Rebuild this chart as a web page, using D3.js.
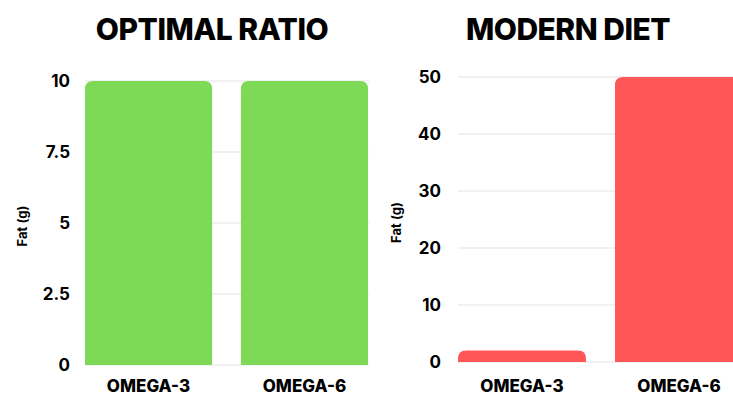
<!DOCTYPE html>
<html>
<head>
<meta charset="utf-8">
<script src="https://cdn.jsdelivr.net/npm/d3@7"></script>
<style>
  html, body { margin: 0; padding: 0; background: #fff; }
  svg { display: block; }
  text { font-family: Inter, "Noto Sans", sans-serif; fill: #000; }
</style>
</head>
<body>
<svg id="chart" width="733" height="396"></svg>
<script>
// Fat content per category for each panel
const categories = ["OMEGA-3", "OMEGA-6"];
const optimalValues = [10, 10];
const modernValues = [2, 50];
const optimalTicks = [0, 2.5, 5, 7.5, 10];
const modernTicks = [0, 10, 20, 30, 40, 50];
const panelTitles = ["OPTIMAL RATIO", "MODERN DIET"];
const yAxisTitle = "Fat (g)";

const svg = d3.select("#chart");

// Path for a bar with rounded top corners only
function topRoundedBar(x, y, w, h, r) {
  r = Math.min(r, h, w / 2);
  return `M${x},${y + h}V${y + r}Q${x},${y} ${x + r},${y}H${x + w - r}Q${x + w},${y} ${x + w},${y + r}V${y + h}Z`;
}

function drawPanel(cfg) {
  const g = svg.append("g");

  const x = d3.scaleBand()
    .domain(categories)
    .range([cfg.x0, cfg.x1])
    .paddingInner(0.185)
    .paddingOuter(0);

  const y = d3.scaleLinear()
    .domain([0, cfg.max])
    .range([cfg.y0, cfg.y1]);

  // Gridlines
  g.append("g")
    .selectAll("line")
    .data(cfg.ticks)
    .join("line")
    .attr("x1", cfg.x0)
    .attr("x2", cfg.gridEnd)
    .attr("y1", d => y(d))
    .attr("y2", d => y(d))
    .attr("stroke", "#e3e3e3")
    .attr("stroke-width", 1);

  // Y tick labels
  const yAxis = d3.axisLeft(y).tickValues(cfg.ticks).tickSize(0).tickPadding(0)
    .tickFormat(d3.format("~g"));
  const ya = g.append("g")
    .attr("transform", `translate(${cfg.tickX},0)`)
    .call(yAxis);
  ya.select(".domain").remove();
  ya.selectAll("text")
    .attr("font-family", "Inter, sans-serif")
    .attr("font-size", 17)
    .attr("font-weight", 700)
    .attr("fill", "#000");

  // Bars
  g.append("g")
    .selectAll("path")
    .data(categories.map((c, i) => ({ c, v: cfg.values[i] })))
    .join("path")
    .attr("d", d => topRoundedBar(x(d.c), y(d.v), x.bandwidth(), y(0) - y(d.v), 8))
    .attr("fill", cfg.color);

  // Category labels
  const xAxis = d3.axisBottom(x).tickSize(0).tickPadding(0);
  const xa = g.append("g")
    .attr("transform", `translate(0,${cfg.catY})`)
    .call(xAxis);
  xa.select(".domain").remove();
  xa.selectAll("text")
    .attr("dy", 0)
    .attr("font-family", "Inter, sans-serif")
    .attr("font-size", 17)
    .attr("font-weight", 800)
    .attr("fill", "#000");

  // Y axis title
  g.append("text")
    .attr("transform", `translate(${cfg.axisTitleX},${(cfg.y0 + cfg.y1) / 2 + 3}) rotate(-90)`)
    .attr("text-anchor", "middle")
    .attr("font-size", 13)
    .attr("font-weight", 700)
    .text(yAxisTitle);

  // Panel title
  g.append("text")
    .attr("x", cfg.titleX)
    .attr("y", 40)
    .attr("text-anchor", "middle")
    .attr("font-size", 30)
    .attr("font-weight", 800)
    .attr("letter-spacing", -0.5)
    .text(cfg.title);
}

drawPanel({
  title: panelTitles[0], titleX: 212,
  values: optimalValues, ticks: optimalTicks, max: 10,
  x0: 85, x1: 368, gridEnd: 369, y0: 365, y1: 81,
  tickX: 70, axisTitleX: 27, catY: 392, color: "#7ED957"
});

drawPanel({
  title: panelTitles[1], titleX: 568,
  values: modernValues, ticks: modernTicks, max: 50,
  x0: 458, x1: 743, gridEnd: 743, y0: 362, y1: 77,
  tickX: 441, axisTitleX: 401, catY: 392, color: "#FF5757"
});
</script>
</body>
</html>
